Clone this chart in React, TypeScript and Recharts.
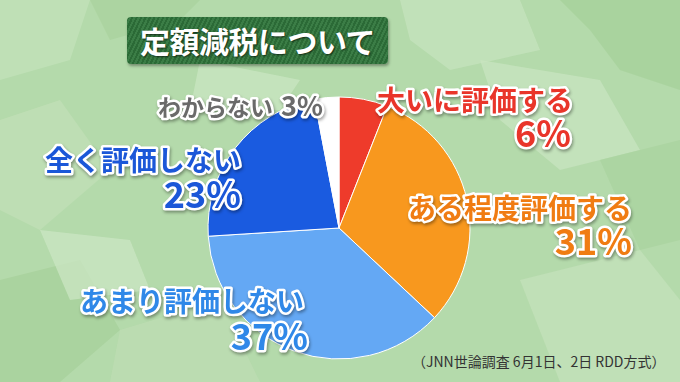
import React from 'react';
import { PieChart, Pie, Cell } from 'recharts';

const categories = ['大いに評価する', 'ある程度評価する', 'あまり評価しない', '全く評価しない', 'わからない'];
const values = [6, 31, 37, 23, 3];
const pctLabels = ['6%', '31%', '37%', '23%', '3%'];
const sliceColors = ['#ee3b2b', '#f8981e', '#64a8f4', '#1a5be0', '#ffffff'];
const labelColors = ['#e9352a', '#f07c12', '#2f88e8', '#1b57d8', '#6a6a6a'];
const title = '定額減税について';
const footnote = '（JNN世論調査 6月1日、2日 RDD方式）';

const data = categories.map((name, i) => ({ name, value: values[i], pct: pctLabels[i] }));

const W = 680;
const H = 382;
const CX = 339;
const CY = 228;
const R = 131;

// label layout: offsets (relative to pie centre) for name line and percent line
const labelLayout = [
  { nx: 234, ny: -117, px: 232, py: -81, combined: false },
  { nx: 293, ny: -9, px: 293, py: 27, combined: false },
  { nx: -35, ny: 84, px: -31, py: 122, combined: false },
  { nx: -98, ny: -57, px: -98, py: -20, combined: false },
  { nx: -16, ny: -112, px: 0, py: 0, combined: true },
];

const FONT = '"Noto Sans CJK JP", "Noto Sans", sans-serif';

const textStyle = (color: string) => ({
  fill: color,
  stroke: '#ffffff',
  strokeWidth: 5,
  strokeLinejoin: 'round' as const,
  paintOrder: 'stroke' as const,
  fontFamily: FONT,
  fontWeight: 700,
  filter: 'drop-shadow(1px 2px 1.5px rgba(0,0,0,0.35))',
});

const renderLabel = (props: any) => {
  const { cx, cy, index } = props;
  const lay = labelLayout[index];
  const color = labelColors[index];
  if (lay.combined) {
    return (
      <text x={cx + lay.nx} y={cy + lay.ny} textAnchor="end" fontSize={23} style={textStyle(color)}>
        <tspan>{categories[index]}</tspan>
        <tspan dx={8} fontSize={27}>{pctLabels[index]}</tspan>
      </text>
    );
  }
  return (
    <g>
      <text x={cx + lay.nx} y={cy + lay.ny} textAnchor="end" fontSize={28} style={textStyle(color)}>
        {categories[index]}
      </text>
      <text x={cx + lay.px} y={cy + lay.py} textAnchor="end" fontSize={36} style={textStyle(color)}>
        {pctLabels[index]}
      </text>
    </g>
  );
};

const patches = [
  { p: '0,0 90,0 70,60 0,80', c: '#c3e1b9' },
  { p: '90,0 200,0 180,20 110,40', c: '#a9d29e' },
  { p: '400,0 520,0 540,50 450,70 410,40', c: '#c6e3bd' },
  { p: '560,0 680,0 680,90 620,70 590,30', c: '#a6d09a' },
  { p: '0,120 60,100 110,170 40,230 0,210', c: '#c1dfb7' },
  { p: '480,60 600,80 640,150 560,170 500,120', c: '#c8e4c0' },
  { p: '0,280 80,260 120,330 60,382 0,382', c: '#a7d09b' },
  { p: '120,330 220,300 260,382 110,382', c: '#bedcb3' },
  { p: '520,280 640,250 680,300 680,382 560,382', c: '#c4e2bb' },
  { p: '600,160 680,140 680,240 640,250', c: '#aad39f' },
  { p: '200,60 300,80 280,110 190,110', c: '#c9e5c1' },
  { p: '40,230 130,240 150,290 70,300', c: '#cbe6c3' },
];

export default function App() {
  return (
    <div
      style={{
        position: 'absolute',
        left: 0,
        top: 0,
        width: W,
        height: H,
        overflow: 'hidden',
        background: '#b4daab',
      }}
    >
      <svg width={W} height={H} style={{ position: 'absolute', left: 0, top: 0 }}>
        {patches.map((pt, i) => (
          <polygon key={i} points={pt.p} fill={pt.c} opacity={0.75} />
        ))}
        <text x={412} y={367} fontSize={14} fill="#333333" fontFamily={FONT}>
          {footnote}
        </text>
      </svg>
      <div
        style={{
          position: 'absolute',
          left: 127,
          top: 17,
          width: 261,
          height: 47,
          borderRadius: 4,
          background: 'repeating-linear-gradient(115deg, #2b6a36 0px, #2b6a36 2px, #3b7d46 2px, #3b7d46 4px)',
          boxShadow: '1px 2px 3px rgba(0,0,0,0.35)',
          color: '#ffffff',
          fontFamily: FONT,
          fontWeight: 700,
          fontSize: 30,
          lineHeight: '47px',
          textAlign: 'center',
          textShadow: '1px 1px 2px rgba(0,0,0,0.6)',
          letterSpacing: -0.5,
        }}
      >
        {title}
      </div>
      <div style={{ position: 'absolute', left: 0, top: 0 }}>
        <PieChart width={W} height={H} margin={{ top: 0, right: 0, bottom: 0, left: 0 }}>
          <Pie
            data={data}
            dataKey="value"
            nameKey="name"
            cx={CX}
            cy={CY}
            outerRadius={R}
            innerRadius={0}
            startAngle={90}
            endAngle={-270}
            stroke="#ffffff"
            strokeWidth={1}
            label={renderLabel}
            labelLine={false}
            isAnimationActive={false}
          >
            {data.map((d, i) => (
              <Cell key={d.name} fill={sliceColors[i]} />
            ))}
          </Pie>
        </PieChart>
      </div>
    </div>
  );
}
